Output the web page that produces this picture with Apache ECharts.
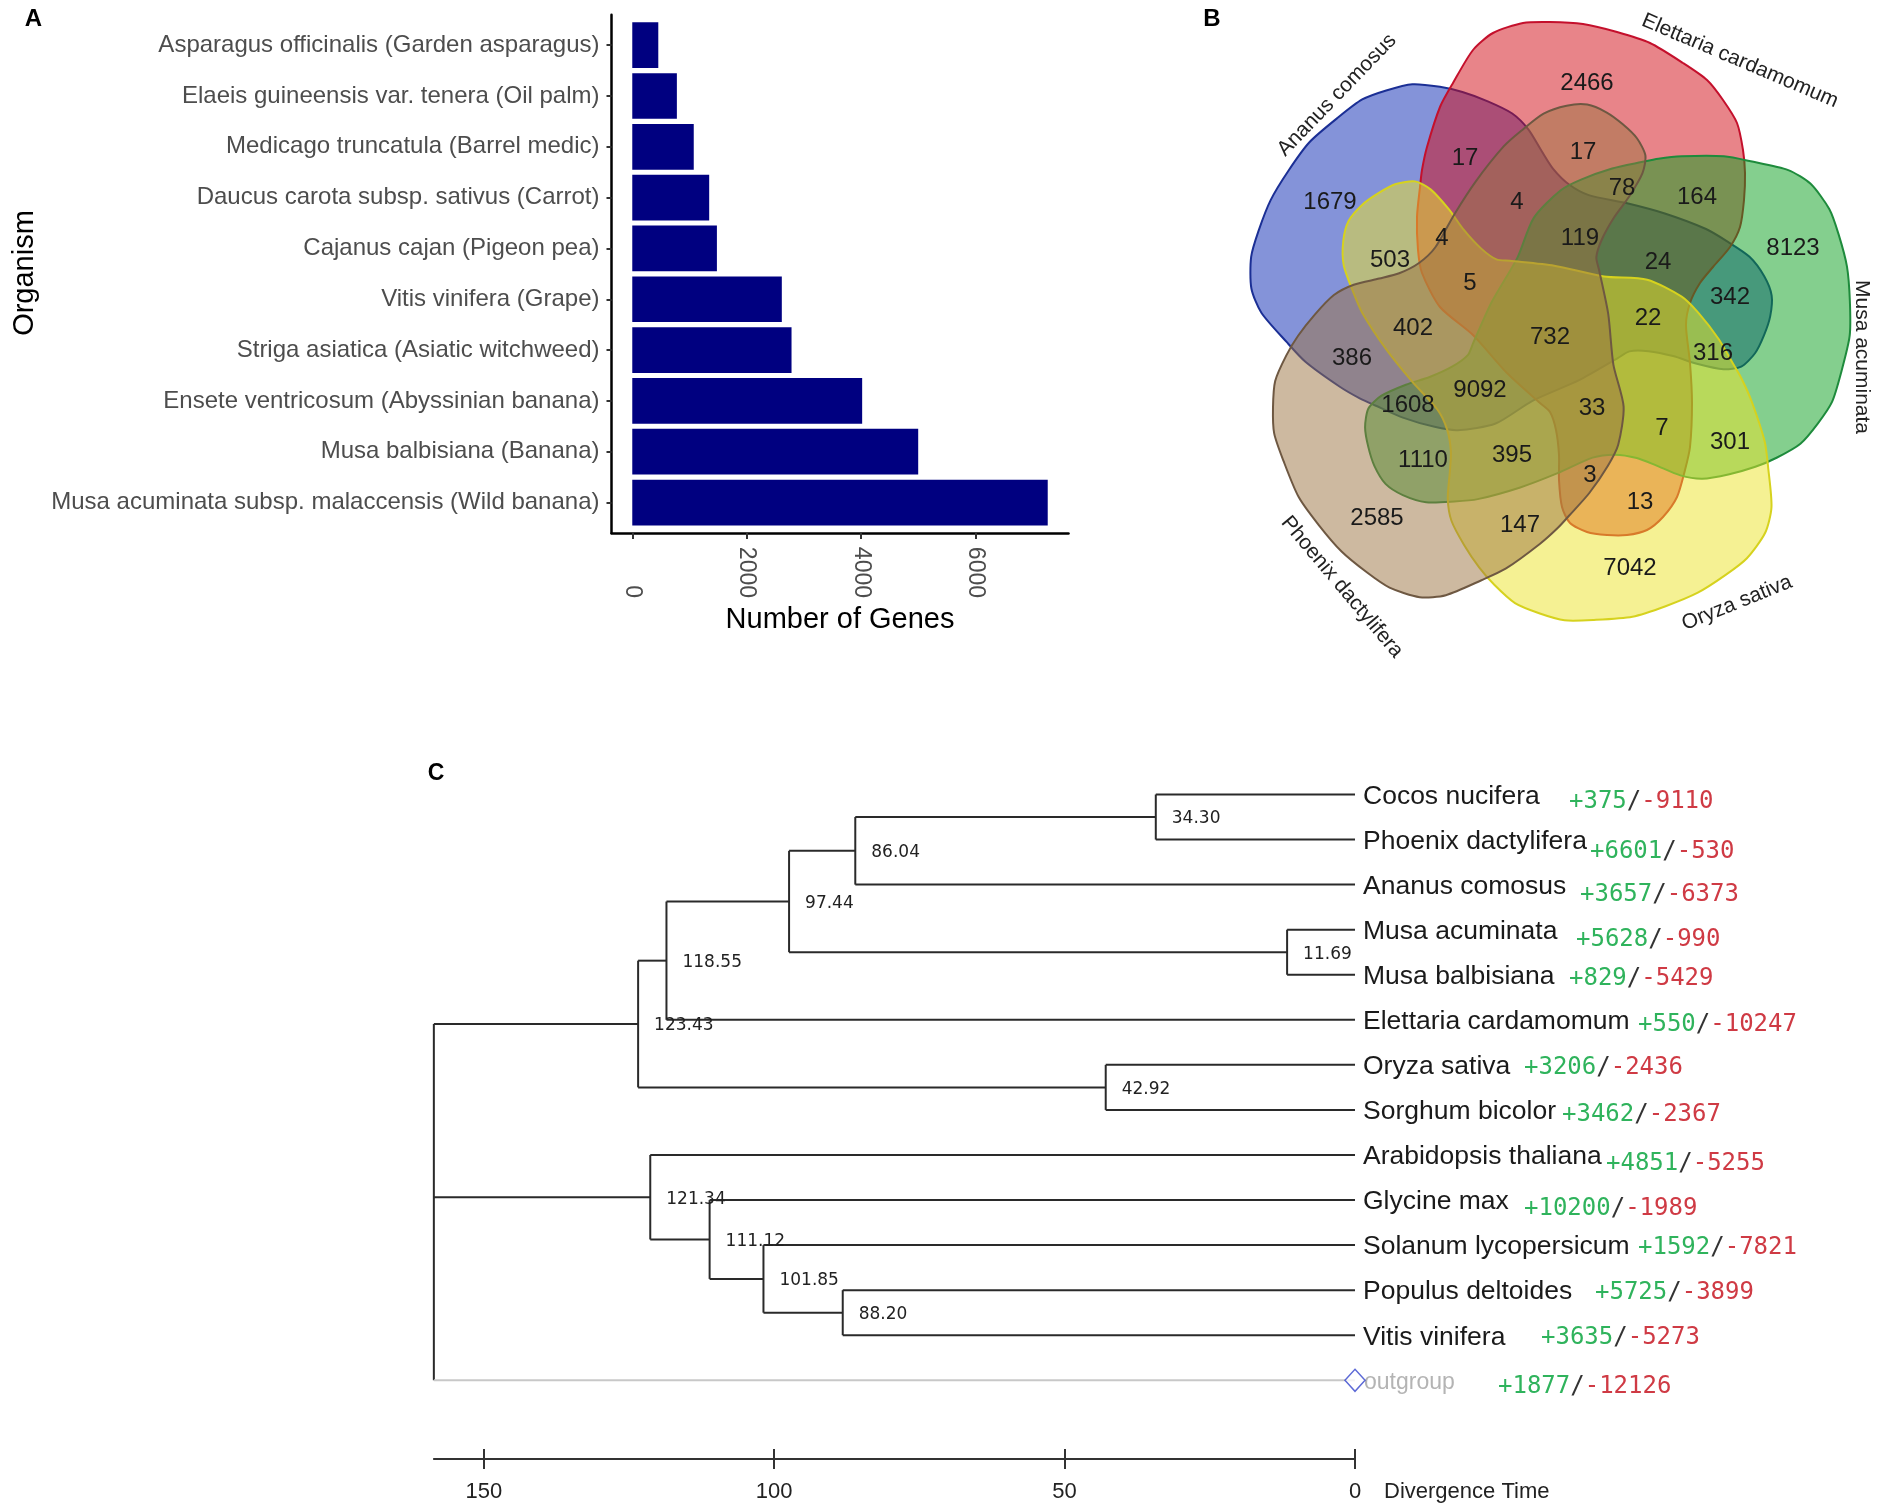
<!DOCTYPE html>
<html><head><meta charset="utf-8">
<script src="https://cdn.jsdelivr.net/npm/echarts@6/dist/echarts.min.js"></script>
<style>html,body{margin:0;padding:0;background:#fff}#c{width:1890px;height:1512px}</style>
</head><body><div id="c"></div>
<script>
// ---------------- Panel A data ----------------
const organisms = ['Asparagus officinalis (Garden asparagus)','Elaeis guineensis var. tenera (Oil palm)','Medicago truncatula (Barrel medic)','Daucus carota subsp. sativus (Carrot)','Cajanus cajan (Pigeon pea)','Vitis vinifera (Grape)','Striga asiatica (Asiatic witchweed)','Ensete ventricosum (Abyssinian banana)','Musa balbisiana (Banana)','Musa acuminata subsp. malaccensis (Wild banana)'];
const geneCounts = [455, 780, 1075, 1345, 1480, 2615, 2785, 4020, 5000, 7265];
const geneTicks = [0, 2000, 4000, 6000];

// ---------------- Panel B data ----------------
const setNames = ['Ananus comosus','Elettaria cardamomum','Musa acuminata','Oryza sativa','Phoenix dactylifera'];
const regionCounts = [1679,2466,8123,7042,2585,17,17,78,164,4,4,503,5,119,24,342,22,402,732,386,9092,1608,316,33,7,301,1110,395,3,13,147];

// ---------------- Panel C data ----------------
const leafNames = ['Cocos nucifera','Phoenix dactylifera','Ananus comosus','Musa acuminata','Musa balbisiana','Elettaria cardamomum','Oryza sativa','Sorghum bicolor','Arabidopsis thaliana','Glycine max','Solanum lycopersicum','Populus deltoides','Vitis vinifera','outgroup'];
const gains  = [375,6601,3657,5628,829,550,3206,3462,4851,10200,1592,5725,3635,1877];
const losses = [9110,530,6373,990,5429,10247,2436,2367,5255,1989,7821,3899,5273,12126];
const rootAge = 158.6;
const tree = {age: rootAge, children: [
  {age: 123.43, children: [
    {age: 118.55, children: [
      {age: 97.44, children: [
        {age: 86.04, children: [{age: 34.30, children: [0, 1]}, 2]},
        {age: 11.69, children: [3, 4]}
      ]},
      5
    ]},
    {age: 42.92, children: [6, 7]}
  ]},
  {age: 121.34, children: [8, {age: 111.12, children: [9, {age: 101.85, children: [10, {age: 88.20, children: [11, 12]}]}]}]},
  13
]};
const timeTicks = [0, 50, 100, 150];

// ---------------- layout (positions / styles) ----------------
const vennCenter = [1548, 327];
// outline of one set (Elettaria) relative to centre; the others are rotated copies
const shapeTemplate = [[-108,-220],[-95,-244],[-75,-277],[-55,-294],[-25,-304],[2,-305],[35,-303],[69,-295],[102,-284],[135,-264],[159,-247],[175,-227],[189,-204],[195,-177],[197,-154],[196,-127],[192,-100],[182,-80],[165,-60],[152,-44],[142,-24],[138,-2],[142,36],[144,76],[142,120],[137,143],[129,170],[115,190],[99,203],[79,208],[59,208],[39,205],[22,196],[14,180],[11,153],[11,128],[8,103],[2,85],[-8,76],[-41,46],[-75,8],[-108,-20],[-126,-54],[-130,-77],[-131,-110],[-128,-140],[-126,-157],[-121,-180]];
const setRotation = [-72, 0, 72, 144, 216];
const setFill = ['rgba(10,40,180,0.5)','rgba(210,10,20,0.5)','rgba(10,160,30,0.5)','rgba(235,228,40,0.5)','rgba(155,115,65,0.5)'];
const setStroke = ['#1b2f95','#c4102c','#1e8b3c','#d6d21e','#6e5842'];
const drawOrder = [0, 1, 2, 3, 4];
const setLabelLayout = [[-211,-232,46],[192,-266,-23],[314,30,-90],[189,276,22],[-206,260,-50]];
const regionLabelPos = [[-218,-125],[39,-244],[245,-79],[82,241],[-171,191],[-83,-169],[35,-175],[74,-139],[149,-130],[-31,-125],[-106,-89],[-158,-67],[-78,-44],[32,-89],[110,-65],[182,-30],[100,-9],[-135,1],[2,10],[-196,31],[-68,63],[-140,78],[165,26],[44,81],[114,101],[182,115],[-125,133],[-36,128],[42,148],[92,175],[-28,198]];
const gainOffset = [214,235,225,221,214,283,169,207,251,169,283,240,186,143];
const gainDy = [7,12,10,10,4,5,3,5,9,9,3,2.5,2.5,6];

const gMax = Math.max(...geneCounts);
const pxPerMy = 5.808, tip = 1355;

const chart = echarts.init(document.getElementById('c'), null, {width:1890, height:1512});

function layoutTree(node) {
  if (typeof node === 'number') return {y: node, age: 0, leaf: node};
  const ch = node.children.map(layoutTree);
  return {y: (ch[0].y + ch[ch.length - 1].y) / 2, age: node.age, children: ch};
}
const laid = layoutTree(tree);

const treeLabelFont = 'DejaVu Sans';
const narrowFont = "'Liberation Sans Narrow','Liberation Sans'";

const option = {
  animation: false,
  backgroundColor: '#fff',
  textStyle: {fontFamily: 'Liberation Sans'},
  grid: [
    {left: 611.5, top: 14.7, width: 457, height: 518.3, outerBoundsMode: 'none'},
    {left: tip - 160 * pxPerMy, width: 160 * pxPerMy, top: 794.5, height: 13 * 45.06, outerBoundsMode: 'none'},
    {left: tip - rootAge * pxPerMy, width: rootAge * pxPerMy, top: 1400, height: 59, outerBoundsMode: 'none'},
    {left: vennCenter[0] - 340, width: 680, top: vennCenter[1] - 320, height: 660, outerBoundsMode: 'none'}
  ],
  xAxis: [
    {gridIndex: 0, type: 'value', min: -0.05 * gMax, max: 1.05 * gMax,
     axisLine: {show: true, onZero: false, lineStyle: {color: '#000', width: 2.5}},
     axisTick: {show: true, customValues: geneTicks, length: 6, lineStyle: {color: '#333', width: 2}},
     axisLabel: {customValues: geneTicks, formatter: v => String(v), rotate: -90, align: 'right', margin: 65, fontSize: 23, color: '#4d4d4d', fontFamily: 'Liberation Sans'},
     splitLine: {show: false}},
    {gridIndex: 1, type: 'value', min: 0, max: 160, inverse: true, show: false},
    {gridIndex: 2, type: 'value', min: 0, max: rootAge, inverse: true, position: 'bottom',
     axisLine: {show: true, onZero: false, lineStyle: {color: '#333', width: 2}},
     axisTick: {show: true, customValues: timeTicks, length: 10, lineStyle: {color: '#333', width: 2}},
     axisLabel: {customValues: timeTicks, formatter: v => String(v), margin: 22, fontSize: 22, color: '#222', fontFamily: narrowFont},
     splitLine: {show: false}},
    {gridIndex: 2, type: 'value', min: 0, max: rootAge, inverse: true, position: 'bottom',
     axisLine: {show: false, onZero: false},
     axisTick: {show: true, inside: true, customValues: timeTicks, length: 10, lineStyle: {color: '#333', width: 2}},
     axisLabel: {show: false}, splitLine: {show: false}},
    {gridIndex: 3, type: 'value', min: -340, max: 340, show: false}
  ],
  yAxis: [
    {gridIndex: 0, type: 'value', min: -0.6, max: organisms.length - 0.4, inverse: true,
     axisLine: {show: true, onZero: false, lineStyle: {color: '#000', width: 2.5}},
     axisTick: {show: true, customValues: organisms.map((_, i) => i), length: 5, lineStyle: {color: '#333', width: 2}},
     axisLabel: {customValues: organisms.map((_, i) => i), formatter: v => organisms[Math.round(v)], fontSize: 24, color: '#4d4d4d', margin: 12, fontFamily: 'Liberation Sans'},
     splitLine: {show: false}},
    {gridIndex: 1, type: 'value', min: 0, max: 13, inverse: true, show: false},
    {gridIndex: 2, type: 'value', min: 0, max: 1, show: false},
    {gridIndex: 3, type: 'value', min: -320, max: 340, inverse: true, show: false}
  ],
  graphic: [
    {type: 'text', x: 33.5, y: 19, style: {text: 'A', fontSize: 24, fontWeight: 'bold', fill: '#000', align: 'center', verticalAlign: 'middle', fontFamily: 'Liberation Sans'}},
    {type: 'text', x: 1212, y: 19, style: {text: 'B', fontSize: 24, fontWeight: 'bold', fill: '#000', align: 'center', verticalAlign: 'middle', fontFamily: 'Liberation Sans'}},
    {type: 'text', x: 436, y: 774, style: {text: 'C', fontSize: 23, fontWeight: 'bold', fill: '#000', align: 'center', verticalAlign: 'middle', fontFamily: 'Liberation Sans'}},
    {type: 'text', x: 25, y: 273, rotation: Math.PI / 2, style: {text: 'Organism', fontSize: 29, fill: '#000', align: 'center', verticalAlign: 'middle', fontFamily: 'Liberation Sans'}},
    {type: 'text', x: 840, y: 620, style: {text: 'Number of Genes', fontSize: 29, fill: '#000', align: 'center', verticalAlign: 'middle', fontFamily: 'Liberation Sans'}},
    {type: 'text', x: 1384, y: 1492, style: {text: 'Divergence Time', fontSize: 22, fill: '#222', align: 'left', verticalAlign: 'middle', fontFamily: narrowFont}}
  ],
  series: [
    // Panel A bars
    {type: 'custom', xAxisIndex: 0, yAxisIndex: 0, silent: true, clip: false,
     data: geneCounts.map((v, i) => [v, i]), encode: {x: 0, y: 1},
     renderItem(params, api) {
       const v = api.value(0), i = api.value(1);
       const p0 = api.coord([0, i - 0.45]), p1 = api.coord([v, i + 0.45]);
       return {type: 'rect', shape: {x: p0[0], y: p0[1], width: p1[0] - p0[0], height: p1[1] - p0[1]}, style: {fill: '#000080'}};
     }},
    // Panel B set shapes
    {type: 'custom', xAxisIndex: 4, yAxisIndex: 3, silent: true, clip: false,
     data: drawOrder.map(k => [0, 0, k]), encode: {x: 0, y: 1},
     renderItem(params, api) {
       const k = api.value(2);
       const a = setRotation[k] * Math.PI / 180, c = Math.cos(a), s = Math.sin(a);
       const pts = shapeTemplate.map(([x, y]) => api.coord([x * c - y * s, x * s + y * c]));
       return {type: 'polygon', shape: {points: pts, smooth: 0.25}, style: {fill: setFill[k], stroke: setStroke[k], lineWidth: 2}};
     }},
    // Panel B region counts
    {type: 'custom', xAxisIndex: 4, yAxisIndex: 3, silent: true, clip: false, z: 5,
     data: regionCounts.map((v, i) => [regionLabelPos[i][0], regionLabelPos[i][1], v]), encode: {x: 0, y: 1},
     renderItem(params, api) {
       const p = api.coord([api.value(0), api.value(1)]);
       return {type: 'text', x: p[0], y: p[1], style: {text: String(api.value(2)), fontSize: 24, fontFamily: 'Liberation Sans', fill: '#1a1a1a', align: 'center', verticalAlign: 'middle'}};
     }},
    // Panel B set names
    {type: 'custom', xAxisIndex: 4, yAxisIndex: 3, silent: true, clip: false, z: 5,
     data: setNames.map((n, i) => [setLabelLayout[i][0], setLabelLayout[i][1], i]), encode: {x: 0, y: 1},
     renderItem(params, api) {
       const i = api.value(2);
       const p = api.coord([api.value(0), api.value(1)]);
       return {type: 'text', x: p[0], y: p[1], rotation: setLabelLayout[i][2] * Math.PI / 180,
               style: {text: setNames[i], fontSize: 21, fontFamily: 'Liberation Sans', fill: '#222', align: 'center', verticalAlign: 'middle'}};
     }},
    // Panel C tree branches + node ages
    {type: 'custom', xAxisIndex: 1, yAxisIndex: 1, silent: true, clip: false,
     data: [[0, 0]], encode: {x: 0, y: 1},
     renderItem(params, api) {
       const children = [];
       const line = (a1, y1, a2, y2, color) => {
         const p = api.coord([a1, y1]), q = api.coord([a2, y2]);
         children.push({type: 'line', shape: {x1: p[0], y1: p[1], x2: q[0], y2: q[1]}, style: {stroke: color, lineWidth: 2}});
       };
       const walk = (n, isRoot) => {
         if (!n.children) return;
         const ys = n.children.map(c => c.y);
         line(n.age, Math.min(...ys), n.age, Math.max(...ys), '#2a2a2a');
         n.children.forEach(c => {
           line(n.age, c.y, c.age, c.y, (c.leaf === 13) ? '#c8c8c8' : '#2a2a2a');
           walk(c, false);
         });
         if (!isRoot) {
           const p = api.coord([n.age, n.y]);
           children.push({type: 'text', x: p[0] + 16, y: p[1] + 2, z2: 10,
             style: {text: n.age.toFixed(2), fontSize: 17, fontFamily: treeLabelFont, fill: '#222', align: 'left', verticalAlign: 'middle'}});
         }
       };
       walk(laid, true);
       return {type: 'group', children};
     }},
    // Panel C leaf names and gains/losses
    {type: 'custom', xAxisIndex: 1, yAxisIndex: 1, silent: true, clip: false,
     data: leafNames.map((n, i) => [0, i]), encode: {x: 0, y: 1},
     renderItem(params, api) {
       const i = params.dataIndex;
       const p = api.coord([0, i]);
       const og = i === leafNames.length - 1;
       return {type: 'group', children: [
         {type: 'text', x: p[0] + (og ? 9 : 8), y: p[1] + 2,
          style: {text: leafNames[i], fontSize: og ? 23 : 26.5, fontFamily: 'Liberation Sans', fill: og ? '#b4b4b4' : '#1a1a1a', align: 'left', verticalAlign: 'middle'}},
         {type: 'text', x: p[0] + gainOffset[i], y: p[1] + gainDy[i],
          style: {text: '{g|+' + gains[i] + '}{s|/}{l|-' + losses[i] + '}', align: 'left', verticalAlign: 'middle',
            rich: {g: {fill: '#2fb35c', fontSize: 24, fontFamily: 'DejaVu Sans Mono'},
                   s: {fill: '#333', fontSize: 24, fontFamily: 'DejaVu Sans Mono'},
                   l: {fill: '#cf3a44', fontSize: 24, fontFamily: 'DejaVu Sans Mono'}}}}
       ]};
     }},
    // outgroup diamond
    {type: 'scatter', xAxisIndex: 1, yAxisIndex: 1, silent: true, z: 6,
     data: [[0, leafNames.length - 1]], symbol: 'diamond', symbolSize: [20, 22],
     itemStyle: {color: '#fff', borderColor: '#3344cc', borderWidth: 1.5}},
    // empty series anchoring the scale-bar grid
    {type: 'line', xAxisIndex: 2, yAxisIndex: 2, data: [], silent: true}
  ]
};
chart.setOption(option);
</script>
</body></html>
